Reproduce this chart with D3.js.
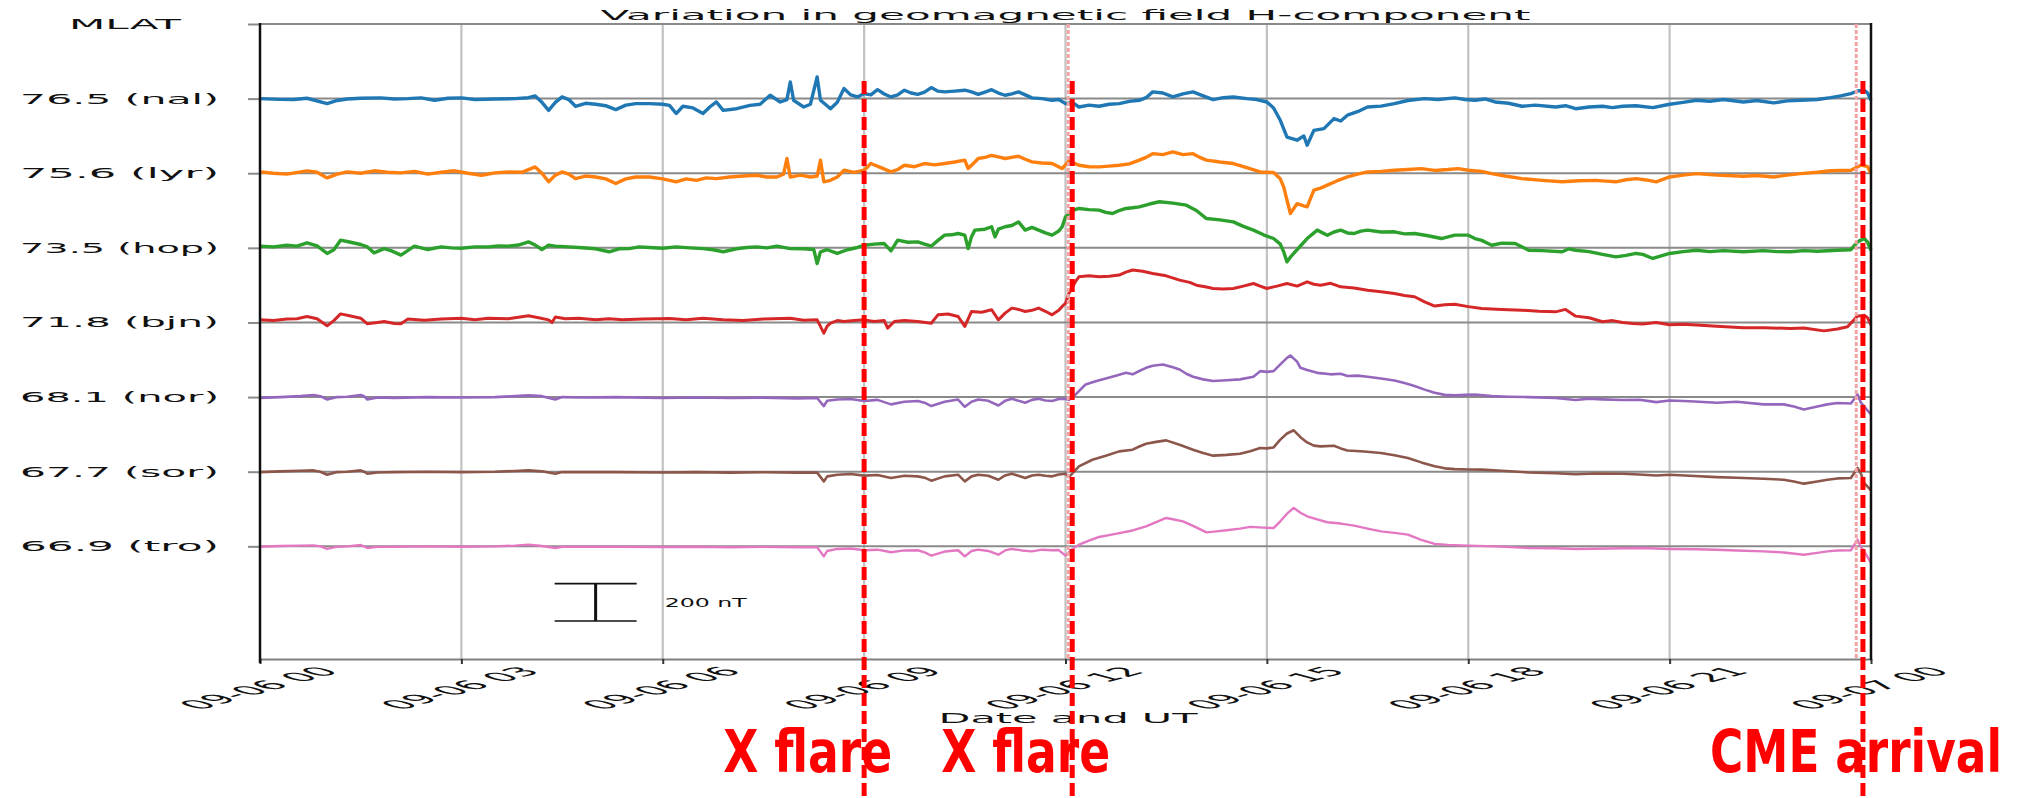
<!DOCTYPE html>
<html>
<head>
<meta charset="utf-8">
<script src="https://cdn.jsdelivr.net/npm/d3@7"></script>
<style>
  body { margin: 0; background: #fff; }
  svg { display: block; }
  text { font-family: "DejaVu Sans", sans-serif; fill: #111; }
</style>
</head>
<body>
<svg id="chart" width="2028" height="798"></svg>
<script>
// Station labels (magnetic latitude + station code), top to bottom
const stationLabels = ["76.5 (nal)", "75.6 (lyr)", "73.5 (hop)", "71.8 (bjn)", "68.1 (nor)", "67.7 (sor)", "66.9 (tro)"];
const stationColors = ["#1f77b4", "#ff7f0e", "#2ca02c", "#d62728", "#9467bd", "#8c564b", "#e377c2"];

// H-component deviation from each station's quiet level: [UT hour, nT]
const nal = [[0,0],[0.3,-4],[0.5,-5],[0.7,2],[1.0,-27],[1.15,-10],[1.3,-2],[1.5,2],[1.8,4],[2.0,-2],[2.2,0],[2.4,4],[2.6,-9],[2.8,2],[3.0,4],[3.2,-5],[3.5,-2],[3.8,0],[4.0,5],[4.1,14],[4.2,-20],[4.3,-63],[4.4,-20],[4.5,9],[4.6,-5],[4.7,-41],[4.85,-25],[5.0,-30],[5.15,-38],[5.3,-59],[5.45,-35],[5.6,-27],[5.8,-27],[6.0,-30],[6.1,-36],[6.2,-80],[6.3,-41],[6.45,-50],[6.6,-80],[6.7,-45],[6.8,-18],[6.9,-63],[7.1,-54],[7.3,-36],[7.45,-30],[7.6,18],[7.75,-18],[7.85,-5],[7.9,89],[7.95,-9],[8.1,-45],[8.2,-30],[8.3,116],[8.35,-9],[8.5,-54],[8.6,-20],[8.7,54],[8.8,20],[8.9,9],[9.0,27],[9.1,20],[9.2,48],[9.3,25],[9.4,9],[9.5,20],[9.6,45],[9.7,30],[9.8,23],[9.9,35],[10.0,59],[10.1,40],[10.2,36],[10.35,40],[10.5,45],[10.6,36],[10.7,23],[10.8,35],[10.9,48],[11.0,30],[11.1,18],[11.2,25],[11.3,36],[11.4,20],[11.5,4],[11.65,0],[11.8,-9],[11.9,-5],[12.0,-27],[12.1,-20],[12.2,-45],[12.35,-35],[12.5,-41],[12.65,-30],[12.8,-27],[12.95,-15],[13.1,-9],[13.2,5],[13.3,36],[13.45,30],[13.6,9],[13.75,25],[13.9,36],[14.05,15],[14.2,-5],[14.35,5],[14.5,9],[14.7,0],[14.85,-5],[15.0,-18],[15.1,-50],[15.2,-116],[15.3,-206],[15.45,-223],[15.55,-200],[15.6,-250],[15.7,-170],[15.85,-161],[16.0,-107],[16.1,-120],[16.2,-89],[16.35,-70],[16.5,-45],[16.7,-40],[16.9,-27],[17.1,-10],[17.35,0],[17.55,-5],[17.8,4],[17.95,-5],[18.1,-9],[18.25,-2],[18.4,-18],[18.6,-25],[18.8,-41],[19.0,-35],[19.3,-45],[19.45,-38],[19.6,-54],[19.8,-45],[20.0,-41],[20.15,-48],[20.3,-41],[20.5,-38],[20.75,-48],[21.0,-30],[21.2,-20],[21.4,-9],[21.6,-14],[21.8,-5],[22.1,-18],[22.3,-10],[22.55,-23],[22.75,-12],[22.95,-9],[23.2,-5],[23.4,5],[23.55,15],[23.7,27],[23.8,41],[23.9,45],[23.95,30],[24.0,-9]];
const lyr = [[0,7],[0.2,0],[0.4,-5],[0.7,13],[0.85,5],[1.0,-25],[1.15,-5],[1.3,7],[1.5,0],[1.7,13],[1.9,5],[2.1,2],[2.3,10],[2.5,-5],[2.7,5],[2.9,13],[3.1,0],[3.3,-11],[3.5,2],[3.7,7],[3.9,5],[4.1,34],[4.2,0],[4.3,-46],[4.4,-10],[4.5,7],[4.6,-5],[4.7,-29],[4.85,-15],[5.0,-20],[5.15,-30],[5.3,-55],[5.45,-30],[5.6,-20],[5.8,-20],[6.0,-30],[6.2,-46],[6.35,-30],[6.5,-38],[6.65,-25],[6.8,-29],[7.0,-20],[7.2,-15],[7.4,-11],[7.55,-20],[7.7,-20],[7.8,-5],[7.85,79],[7.9,-20],[8.05,-10],[8.2,-20],[8.3,-15],[8.35,70],[8.4,-46],[8.5,-38],[8.6,-20],[8.7,16],[8.85,5],[9.0,16],[9.1,52],[9.25,30],[9.4,7],[9.5,20],[9.6,43],[9.75,35],[9.9,52],[10.05,45],[10.2,52],[10.35,60],[10.5,70],[10.55,25],[10.65,60],[10.7,79],[10.8,85],[10.9,96],[11.0,88],[11.1,79],[11.2,85],[11.3,91],[11.4,75],[11.5,61],[11.65,55],[11.8,52],[11.95,25],[12.05,66],[12.2,43],[12.35,35],[12.5,34],[12.65,38],[12.8,43],[12.95,50],[13.1,70],[13.2,85],[13.3,105],[13.45,100],[13.6,114],[13.75,100],[13.9,105],[14.0,85],[14.1,70],[14.3,60],[14.5,52],[14.7,30],[14.9,7],[15.1,4],[15.2,-30],[15.25,-73],[15.35,-216],[15.45,-163],[15.55,-175],[15.6,-180],[15.7,-91],[15.8,-80],[15.9,-64],[16.05,-40],[16.2,-20],[16.35,-5],[16.5,7],[16.7,10],[16.9,16],[17.1,20],[17.3,25],[17.5,15],[17.7,20],[17.85,25],[18.0,16],[18.2,10],[18.35,-2],[18.55,-15],[18.8,-29],[19.1,-38],[19.4,-46],[19.65,-40],[19.9,-38],[20.05,-42],[20.2,-46],[20.35,-35],[20.5,-29],[20.65,-36],[20.8,-46],[21.0,-20],[21.2,-10],[21.4,-2],[21.7,-10],[22.1,-16],[22.3,-12],[22.55,-20],[22.75,-10],[22.95,-2],[23.2,5],[23.4,13],[23.7,16],[23.85,43],[23.95,35],[24.0,-2]];
const hop = [[0,9],[0.2,5],[0.4,14],[0.55,9],[0.7,27],[0.85,10],[1.0,-30],[1.1,-10],[1.2,41],[1.35,30],[1.5,18],[1.6,5],[1.7,-27],[1.85,-4],[1.95,-15],[2.1,-39],[2.2,-15],[2.3,9],[2.5,-9],[2.7,5],[2.85,0],[3.0,-2],[3.2,5],[3.4,5],[3.55,10],[3.7,9],[3.85,15],[4.0,32],[4.1,15],[4.2,-9],[4.3,15],[4.4,9],[4.6,5],[4.75,2],[5.0,-5],[5.2,-21],[5.35,-5],[5.5,-4],[5.65,5],[5.8,2],[6.0,-2],[6.2,5],[6.4,0],[6.6,-4],[6.75,-10],[6.9,-21],[7.1,-5],[7.25,2],[7.4,5],[7.55,0],[7.7,9],[7.9,-4],[8.1,-5],[8.25,-9],[8.3,-84],[8.35,-21],[8.45,-10],[8.6,-30],[8.75,-10],[8.9,2],[9.0,14],[9.15,20],[9.3,23],[9.4,-16],[9.5,41],[9.65,30],[9.8,32],[9.9,20],[10.0,9],[10.1,40],[10.2,68],[10.3,70],[10.4,77],[10.5,68],[10.55,-4],[10.6,60],[10.65,95],[10.8,100],[10.9,113],[10.95,59],[11.0,100],[11.1,113],[11.2,120],[11.3,139],[11.4,95],[11.5,110],[11.6,95],[11.7,80],[11.8,68],[11.9,90],[11.95,113],[12.0,166],[12.1,200],[12.2,211],[12.35,205],[12.5,202],[12.6,190],[12.7,184],[12.8,200],[12.9,211],[13.0,215],[13.1,220],[13.25,235],[13.4,247],[13.6,240],[13.8,229],[13.95,200],[14.1,157],[14.3,150],[14.5,139],[14.65,115],[14.8,95],[14.95,70],[15.1,50],[15.2,20],[15.25,-21],[15.3,-75],[15.35,-50],[15.4,-30],[15.5,10],[15.6,50],[15.75,95],[15.9,68],[16.0,85],[16.1,95],[16.2,80],[16.3,77],[16.4,90],[16.5,95],[16.7,85],[16.9,86],[17.05,75],[17.2,77],[17.4,65],[17.6,50],[17.8,68],[18.0,68],[18.1,50],[18.2,40],[18.35,14],[18.5,25],[18.7,23],[18.9,-13],[19.1,-15],[19.4,-21],[19.5,-5],[19.6,-13],[19.8,-20],[20.0,-35],[20.2,-48],[20.35,-40],[20.5,-30],[20.6,-35],[20.75,-57],[20.9,-40],[21.0,-30],[21.2,-20],[21.4,-13],[21.6,-20],[21.8,-15],[22.1,-21],[22.4,-15],[22.6,-20],[22.8,-21],[23.0,-15],[23.2,-18],[23.5,-13],[23.7,-10],[23.8,32],[23.9,50],[23.95,30],[24.0,-13]];
const bjn = [[0,14],[0.2,10],[0.4,18],[0.55,20],[0.7,32],[0.85,20],[1.0,-18],[1.1,10],[1.2,46],[1.35,35],[1.5,23],[1.6,-7],[1.75,0],[1.85,5],[2.0,-5],[2.1,-7],[2.2,18],[2.45,12],[2.7,18],[3.0,23],[3.2,15],[3.4,23],[3.7,20],[4.0,36],[4.15,25],[4.3,14],[4.35,0],[4.4,29],[4.55,20],[4.75,23],[5.0,15],[5.2,20],[5.4,14],[5.7,18],[6.1,21],[6.35,15],[6.6,23],[6.9,15],[7.2,11],[7.5,18],[7.9,23],[8.1,12],[8.3,14],[8.4,-57],[8.45,-20],[8.5,-4],[8.6,10],[8.7,5],[8.85,10],[9.0,14],[9.15,5],[9.3,10],[9.35,-30],[9.45,5],[9.6,11],[9.8,5],[10.0,-4],[10.1,41],[10.25,45],[10.4,32],[10.5,-21],[10.6,59],[10.75,55],[10.9,68],[11.0,14],[11.1,50],[11.2,77],[11.3,70],[11.4,59],[11.5,65],[11.6,77],[11.7,60],[11.8,41],[11.9,65],[11.95,86],[12.0,102],[12.05,155],[12.15,220],[12.2,245],[12.35,250],[12.5,245],[12.65,248],[12.8,254],[12.9,270],[13.0,281],[13.15,275],[13.3,263],[13.5,250],[13.7,227],[13.85,215],[13.95,200],[14.1,190],[14.2,182],[14.35,180],[14.5,182],[14.65,195],[14.8,209],[14.9,195],[15.0,182],[15.15,195],[15.3,209],[15.45,195],[15.6,218],[15.7,205],[15.8,200],[15.95,210],[16.1,191],[16.3,185],[16.5,173],[16.7,165],[16.9,155],[17.05,145],[17.2,138],[17.35,110],[17.5,88],[17.65,95],[17.8,98],[18.0,85],[18.2,75],[18.5,70],[18.8,66],[19.05,60],[19.3,57],[19.45,70],[19.6,34],[19.8,25],[20.0,4],[20.15,10],[20.3,0],[20.45,-5],[20.6,-8],[20.8,0],[21.0,-12],[21.2,-10],[21.4,-14],[21.7,-20],[22.1,-28],[22.4,-28],[22.8,-32],[23.0,-30],[23.3,-45],[23.5,-35],[23.65,-23],[23.8,34],[23.9,39],[23.95,25],[24.0,-14]];
const nor = [[0,-4],[0.3,0],[0.6,5],[0.8,11],[0.9,5],[1.0,-13],[1.15,0],[1.3,2],[1.5,11],[1.55,5],[1.6,-13],[1.75,-2],[2.0,-4],[2.5,0],[3.0,-2],[3.5,0],[3.8,5],[4.0,9],[4.2,5],[4.4,-13],[4.5,0],[4.8,-2],[5.3,0],[6.0,-5],[6.5,-2],[7.0,-5],[7.5,-3],[8.0,-7],[8.3,-5],[8.4,-48],[8.45,-20],[8.6,-13],[8.8,-10],[9.0,-21],[9.2,-15],[9.4,-39],[9.6,-25],[9.8,-21],[9.9,-30],[10.0,-48],[10.2,-25],[10.4,-13],[10.5,-52],[10.6,-25],[10.7,-13],[10.85,-20],[11.0,-45],[11.1,-20],[11.2,-9],[11.3,-20],[11.4,-30],[11.5,-15],[11.6,-9],[11.7,-18],[11.8,-21],[11.9,-10],[12.0,-9],[12.05,-15],[12.15,14],[12.3,68],[12.45,85],[12.6,100],[12.75,115],[12.9,130],[13.0,122],[13.1,140],[13.2,157],[13.3,168],[13.45,175],[13.6,160],[13.7,148],[13.8,125],[13.9,109],[14.05,95],[14.2,86],[14.4,90],[14.6,95],[14.8,109],[14.9,139],[15.0,135],[15.1,139],[15.2,175],[15.3,210],[15.35,223],[15.45,190],[15.5,157],[15.6,145],[15.75,130],[15.95,122],[16.1,125],[16.2,113],[16.35,115],[16.5,109],[16.7,100],[16.9,89],[17.05,75],[17.2,59],[17.35,40],[17.5,23],[17.65,12],[17.8,9],[17.95,12],[18.1,14],[18.35,5],[18.6,2],[18.9,0],[19.3,-5],[19.45,-10],[19.6,-16],[19.8,-8],[20.0,-12],[20.3,-16],[20.55,-14],[20.8,-27],[21.0,-18],[21.3,-22],[21.7,-30],[22.0,-25],[22.4,-39],[22.7,-39],[22.85,-50],[23.0,-66],[23.2,-50],[23.35,-39],[23.5,-32],[23.7,-34],[23.8,14],[23.85,-30],[23.92,-60],[24.0,-93]];
const sor = [[0,-2],[0.3,2],[0.6,5],[0.8,7],[0.9,0],[1.0,-16],[1.15,-2],[1.3,0],[1.5,7],[1.55,0],[1.6,-11],[1.75,-4],[2.0,-2],[2.5,0],[3.0,-2],[3.5,0],[3.8,4],[4.0,7],[4.2,2],[4.4,-11],[4.5,-2],[4.8,-2],[5.3,-2],[6.0,-4],[6.5,-2],[7.0,-5],[7.5,-3],[8.0,-5],[8.3,-5],[8.4,-52],[8.45,-25],[8.6,-16],[8.8,-12],[9.0,-21],[9.2,-18],[9.4,-34],[9.6,-22],[9.8,-25],[9.9,-32],[10.0,-48],[10.2,-25],[10.4,-16],[10.5,-52],[10.6,-25],[10.7,-16],[10.85,-22],[11.0,-43],[11.1,-20],[11.2,-11],[11.3,-22],[11.4,-34],[11.5,-20],[11.6,-16],[11.7,-22],[11.8,-25],[11.9,-15],[12.0,-11],[12.05,-29],[12.2,29],[12.4,64],[12.6,85],[12.8,109],[13.0,118],[13.1,135],[13.2,150],[13.35,160],[13.5,168],[13.7,145],[13.9,118],[14.05,100],[14.2,86],[14.4,90],[14.6,96],[14.75,110],[14.9,127],[15.0,125],[15.1,130],[15.2,172],[15.3,205],[15.4,222],[15.5,185],[15.6,157],[15.7,140],[15.8,136],[16.0,139],[16.1,125],[16.2,114],[16.45,108],[16.7,100],[16.9,88],[17.1,73],[17.3,50],[17.5,29],[17.65,18],[17.8,14],[18.0,12],[18.2,11],[18.5,5],[18.9,-4],[19.3,-8],[19.6,-14],[19.9,-10],[20.3,-11],[20.55,-15],[20.8,-20],[21.0,-16],[21.3,-22],[21.7,-29],[22.0,-32],[22.4,-38],[22.7,-43],[22.85,-52],[23.0,-64],[23.2,-52],[23.35,-43],[23.5,-36],[23.7,-34],[23.8,20],[23.85,-10],[23.9,-61],[24.0,-100]];
const tro = [[0,-2],[0.3,2],[0.6,4],[0.8,5],[0.9,0],[1.0,-14],[1.15,-2],[1.3,0],[1.5,7],[1.55,0],[1.6,-9],[1.75,-3],[2.0,-2],[2.5,0],[3.0,-2],[3.5,0],[3.8,4],[4.0,9],[4.2,2],[4.4,-9],[4.5,-2],[4.8,-2],[5.3,-2],[6.0,-4],[6.5,-2],[7.0,-5],[7.5,-3],[8.0,-5],[8.3,-5],[8.4,-54],[8.45,-25],[8.6,-14],[8.8,-12],[9.0,-21],[9.2,-18],[9.4,-32],[9.6,-22],[9.8,-21],[9.9,-32],[10.0,-50],[10.2,-28],[10.4,-21],[10.5,-54],[10.6,-25],[10.7,-18],[10.85,-25],[11.0,-45],[11.1,-22],[11.2,-14],[11.35,-22],[11.5,-27],[11.65,-18],[11.8,-21],[11.9,-20],[12.0,-50],[12.1,-15],[12.2,9],[12.35,30],[12.5,50],[12.65,60],[12.8,71],[13.0,85],[13.2,107],[13.35,130],[13.5,152],[13.6,145],[13.75,134],[13.9,110],[14.1,75],[14.25,80],[14.4,86],[14.6,95],[14.75,104],[14.95,100],[15.1,98],[15.2,134],[15.3,175],[15.4,206],[15.5,180],[15.6,161],[15.75,145],[15.9,129],[16.1,122],[16.3,111],[16.5,95],[16.7,80],[16.9,72],[17.1,63],[17.3,35],[17.5,13],[17.7,8],[18.0,4],[18.4,0],[18.9,-9],[19.3,-10],[19.6,-14],[20.1,-12],[20.6,-9],[21.0,-14],[21.4,-16],[21.7,-18],[22.0,-22],[22.4,-27],[22.7,-33],[23.0,-45],[23.2,-35],[23.35,-27],[23.5,-22],[23.7,-21],[23.8,36],[23.85,-5],[23.9,-27],[24.0,-89]];
const stationSeries = [nal, lyr, hop, bjn, nor, sor, tro];

// Axis ticks (UT hours) and annotation times
const tickHours = [0, 3, 6, 9, 12, 15, 18, 21, 24];
const eventLineHours = [12.04, 23.78];            // faint event markers inside the axes
const annotationHours = [9.0, 12.1, 23.88];       // overlaid event markers
const annotationLabels = ["X flare", "X flare", "CME arrival"];
const stationSpacingNT = 400;
const scaleBarNT = 200;
const scaleBarHour = 5.0;

const svg = d3.select("#chart");
const W = 2028, H = 798;
const plot = { left: 260, right: 1871, top: 24, bottom: 659 };
const dayStart = Date.UTC(2017, 8, 6);
const toDate = h => new Date(dayStart + h * 3600e3);

const x = d3.scaleUtc().domain([toDate(0), toDate(24)]).range([plot.left, plot.right]);
const y = d3.scaleLinear().domain([0, -3404]).range([plot.top, plot.bottom]);
const baseline = i => -(i + 1) * stationSpacingNT;

svg.append("rect").attr("width", W).attr("height", H).attr("fill", "#fff");

// Horizontal text in this figure is widened; K is the horizontal stretch.
const K = 3.0;
function wideText(parent, px, py, str, size, width, anchor) {
  const g = parent.append("g").attr("transform", `translate(${px},${py}) scale(${K},1)`);
  return g.append("text").attr("font-size", size).attr("text-anchor", anchor || "start")
    .attr("textLength", width / K).attr("lengthAdjust", "spacingAndGlyphs").text(str);
}

// vertical grid
svg.append("g").selectAll("line").data(tickHours.slice(1, -1)).join("line")
  .attr("x1", d => x(toDate(d))).attr("x2", d => x(toDate(d)))
  .attr("y1", plot.top).attr("y2", plot.bottom)
  .attr("stroke", "#c2c2c2").attr("stroke-width", 2.2);

// y axis: station baselines and MLAT header tick
const yTicks = [0].concat(stationLabels.map((_, i) => baseline(i)));
const yAxis = d3.axisLeft(y).tickValues(yTicks).tickSize(12).tickSizeOuter(0).tickFormat("");
const yg = svg.append("g").attr("transform", `translate(${plot.left},0)`).call(yAxis);
yg.select(".domain").remove();
yg.selectAll(".tick line").attr("stroke", "#8a8a8a").attr("stroke-width", 2);

// horizontal grid at each y tick
svg.append("g").selectAll("line").data(yTicks).join("line")
  .attr("x1", plot.left).attr("x2", plot.right + 1)
  .attr("y1", d => y(d)).attr("y2", d => y(d))
  .attr("stroke", "#8a8a8a").attr("stroke-width", 2);

// y tick labels
const labelG = svg.append("g");
stationLabels.forEach((s, i) => {
  wideText(labelG, 219, y(baseline(i)) + 5, s, 14, 199, "end");
});
wideText(labelG, 69, y(0) + 5, "MLAT", 14, 112, "start");

// x axis
const xAxis = d3.axisBottom(x).tickValues(tickHours.map(toDate)).tickSize(5).tickSizeOuter(0)
  .tickFormat(d3.utcFormat("%m-%d %H"));
const xg = svg.append("g").attr("transform", `translate(0,${plot.bottom})`).call(xAxis);
xg.select(".domain").attr("stroke", "#808080").attr("stroke-width", 2);
xg.selectAll(".tick line").attr("stroke", "#333").attr("stroke-width", 2);
xg.selectAll(".tick text")
  .attr("y", 0).attr("dy", "0.35em").attr("x", 0)
  .attr("text-anchor", "middle")
  .attr("font-size", 12.5)
  .attr("font-family", "DejaVu Sans, sans-serif")
  .attr("fill", "#111")
  .attr("textLength", 54).attr("lengthAdjust", "spacingAndGlyphs")
  .attr("transform", "translate(-2,29) scale(3.7,1) rotate(-45)");

// station traces
const line = d3.line().x(d => x(toDate(d[0]))).y(d => d[1]);
const widths = [3.4, 3.4, 3.4, 3, 2.6, 2.6, 2.4];
stationSeries.forEach((series, i) => {
  svg.append("path")
    .datum(series.map(([h, v]) => [h, y(baseline(i) + v)]))
    .attr("d", line)
    .attr("fill", "none")
    .attr("stroke", stationColors[i])
    .attr("stroke-width", widths[i])
    .attr("stroke-linejoin", "round");
});

// left and right spines
svg.append("line").attr("x1", plot.left).attr("x2", plot.left).attr("y1", plot.top - 1).attr("y2", plot.bottom + 4)
  .attr("stroke", "#111").attr("stroke-width", 2.5);
svg.append("line").attr("x1", plot.right).attr("x2", plot.right).attr("y1", plot.top - 1).attr("y2", plot.bottom + 1)
  .attr("stroke", "#111").attr("stroke-width", 2.5);

// faint event markers
svg.append("g").selectAll("line").data(eventLineHours).join("line")
  .attr("x1", d => x(toDate(d))).attr("x2", d => x(toDate(d)))
  .attr("y1", plot.top).attr("y2", plot.bottom)
  .attr("stroke", "#f3a3a3").attr("stroke-width", 3).attr("stroke-dasharray", "4,2");

// scale bar
const sbx = x(toDate(scaleBarHour));
const sbTop = y(-3000), sbBot = y(-3000 - scaleBarNT);
const sb = svg.append("g").attr("stroke", "#111");
sb.append("line").attr("x1", sbx).attr("x2", sbx).attr("y1", sbTop).attr("y2", sbBot).attr("stroke-width", 3);
sb.append("line").attr("x1", sbx - 41).attr("x2", sbx + 41).attr("y1", sbTop).attr("y2", sbTop).attr("stroke-width", 1.6);
sb.append("line").attr("x1", sbx - 41).attr("x2", sbx + 41).attr("y1", sbBot).attr("y2", sbBot).attr("stroke-width", 1.6);
wideText(svg, sbx + 69, (sbTop + sbBot) / 2 + 5, `${scaleBarNT} nT`, 12, 82, "start");

// title and x label
wideText(svg, (plot.left + plot.right) / 2, 19.5, "Variation in geomagnetic field H-component", 13.5, 930, "middle");
wideText(svg, 1068, 723, "Date and UT", 13.5, 259, "middle");

// overlaid event markers with labels (label right edges relative to each marker)
const labelRightOffsets = [28, 38, 139];
const labelWidths = [169, 169, 292];
annotationHours.forEach((h, i) => {
  const ax = x(toDate(h));
  svg.append("line").attr("x1", ax).attr("x2", ax).attr("y1", 81).attr("y2", H)
    .attr("stroke", "#ff0000").attr("stroke-width", 5).attr("stroke-dasharray", "13,5");
  svg.append("text")
    .attr("x", ax + labelRightOffsets[i]).attr("y", 772)
    .attr("text-anchor", "end")
    .attr("font-family", "'Liberation Sans Narrow', 'DejaVu Sans Condensed', 'Liberation Sans', sans-serif")
    .attr("font-weight", "bold").attr("font-size", 58)
    .attr("textLength", labelWidths[i]).attr("lengthAdjust", "spacingAndGlyphs")
    .style("fill", "#ff0000")
    .text(annotationLabels[i]);
});
</script>
</body>
</html>
